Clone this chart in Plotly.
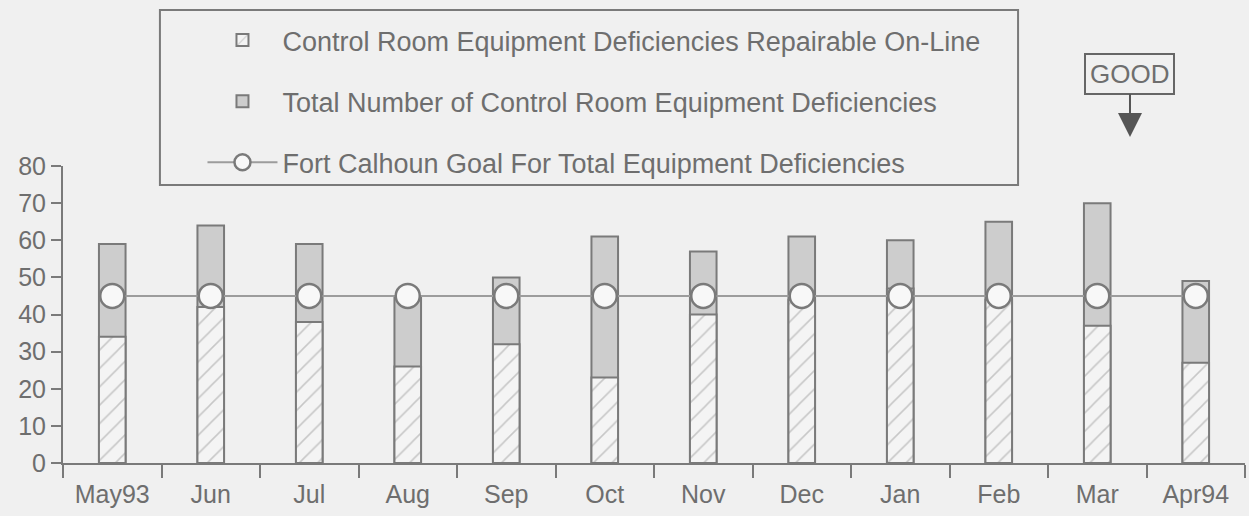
import plotly.graph_objects as go

months = ["May93", "Jun", "Jul", "Aug", "Sep", "Oct", "Nov", "Dec", "Jan", "Feb", "Mar", "Apr94"]
total = [59, 64, 59, 45, 50, 61, 57, 61, 60, 65, 70, 49]
repairable = [34, 42, 38, 26, 32, 23, 40, 44, 47, 44, 37, 27]
goal = [45, 45, 45, 45, 45, 45, 45, 45, 45, 45, 45, 45]

INK = "#6e6e6e"
LINE = "#7a7a7a"
BG = "#f0f0f0"
FONT = "Liberation Sans, Arial, sans-serif"

fig = go.Figure()

# gray full-height bars first, hatched part drawn over them
fig.add_trace(go.Bar(
    x=months, y=total,
    name="Total Number of Control Room Equipment Deficiencies",
    marker=dict(color="#cdcdcd", line=dict(color=LINE, width=2)),
    width=0.27, legendrank=2, legendgroup="b",
))
fig.add_trace(go.Bar(
    x=months, y=repairable,
    name="Control Room Equipment Deficiencies Repairable On-Line",
    marker=dict(
        color="#f4f4f4",
        line=dict(color=LINE, width=2),
        pattern=dict(shape="/", fgcolor="#9a9a9a", bgcolor="#f4f4f4",
                     size=13, solidity=0.12),
    ),
    width=0.27, legendrank=1, legendgroup="a",
))
fig.add_trace(go.Scatter(
    x=months, y=goal, mode="lines+markers",
    name="Fort Calhoun Goal For Total Equipment Deficiencies",
    line=dict(color="#9c9c9c", width=2),
    marker=dict(size=24, color="#f8f8f8", line=dict(color=LINE, width=2.5)),
    legendrank=3, legendgroup="c",
))

fig.update_layout(
    width=1249, height=516,
    margin=dict(l=63, r=4, t=166, b=53),
    paper_bgcolor=BG, plot_bgcolor=BG,
    barmode="overlay",
    font=dict(family=FONT, size=24, color=INK),
    showlegend=True,
    legend=dict(
        x=0.118, y=1.505, xanchor="left", yanchor="top",
        bgcolor="rgba(0,0,0,0)", borderwidth=0,
        font=dict(size=27, color=INK),
        tracegroupgap=23, itemwidth=70,
    ),
    xaxis=dict(
        type="category", range=[-0.5, 11.5],
        showline=True, linecolor=LINE, linewidth=2,
        ticks="outside", tickson="boundaries", ticklen=13,
        tickcolor=LINE, tickwidth=2, ticklabelstandoff=8,
        showgrid=False, zeroline=False,
        tickfont=dict(size=25, color=INK),
    ),
    yaxis=dict(
        range=[0, 80], dtick=10,
        showline=True, linecolor=LINE, linewidth=2,
        ticks="outside", ticklen=10, tickcolor=LINE, tickwidth=2,
        showgrid=False, zeroline=False,
        tickfont=dict(size=25, color=INK),
    ),
    shapes=[dict(
        type="rect", xref="paper", yref="paper",
        x0=0.082, x1=0.808, y0=0.936, y1=1.525,
        line=dict(color=LINE, width=2), fillcolor="rgba(0,0,0,0)",
    )],
    annotations=[dict(
        text="GOOD", xref="paper", yref="paper",
        x=0.9027, y=1.098, ax=0, ay=-63,
        showarrow=True, arrowhead=2, arrowsize=2.4, arrowwidth=2,
        arrowcolor="#555555",
        bordercolor="#666666", borderwidth=2, borderpad=4,
        font=dict(size=26, color=INK),
    )],
)

fig.write_html(
    "out.html",
    config={"displayModeBar": False},
    post_script="document.body.style.margin='0';",
)
